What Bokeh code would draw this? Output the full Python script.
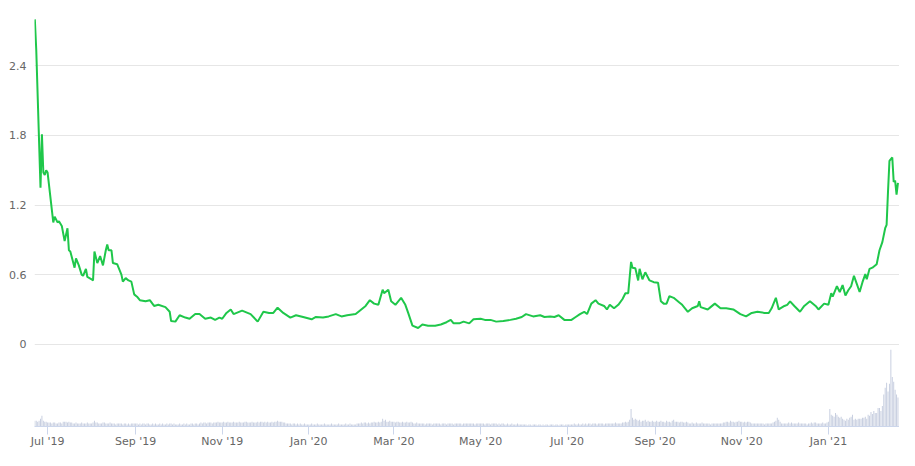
import pandas as pd
from bokeh.plotting import figure
from bokeh.models import Range1d, FixedTicker, DatetimeTickFormatter
from bokeh.embed import file_html
from bokeh.resources import INLINE

# ---- price series ----
price_dates = [
    "2019-06-22", "2019-06-23", "2019-06-26", "2019-06-27", "2019-06-28", "2019-06-29", "2019-06-30",
    "2019-07-01", "2019-07-05", "2019-07-06", "2019-07-08", "2019-07-09", "2019-07-11", "2019-07-13", "2019-07-15", "2019-07-16", "2019-07-17", "2019-07-20", "2019-07-21", "2019-07-23", "2019-07-25", "2019-07-26", "2019-07-28", "2019-07-29",
    "2019-08-01", "2019-08-02", "2019-08-03", "2019-08-05", "2019-08-07", "2019-08-09", "2019-08-11", "2019-08-12", "2019-08-13", "2019-08-15", "2019-08-16", "2019-08-19", "2019-08-20", "2019-08-22", "2019-08-23", "2019-08-25", "2019-08-27", "2019-08-29", "2019-08-31",
    "2019-09-02", "2019-09-04", "2019-09-08", "2019-09-11", "2019-09-14", "2019-09-17", "2019-09-22", "2019-09-25", "2019-09-26", "2019-09-29",
    "2019-10-02", "2019-10-06", "2019-10-09", "2019-10-13", "2019-10-16", "2019-10-20", "2019-10-24", "2019-10-27", "2019-10-30",
    "2019-11-01", "2019-11-04", "2019-11-07", "2019-11-09", "2019-11-15", "2019-11-21", "2019-11-26", "2019-11-30",
    "2019-12-04", "2019-12-07", "2019-12-10", "2019-12-14", "2019-12-19", "2019-12-23", "2019-12-28",
    "2020-01-03", "2020-01-06", "2020-01-11", "2020-01-15", "2020-01-20", "2020-01-24", "2020-01-28",
    "2020-02-03", "2020-02-05", "2020-02-10", "2020-02-13", "2020-02-16", "2020-02-19", "2020-02-22", "2020-02-23", "2020-02-26", "2020-02-28",
    "2020-03-02", "2020-03-06", "2020-03-09", "2020-03-11", "2020-03-14", "2020-03-18", "2020-03-21", "2020-03-25", "2020-03-30",
    "2020-04-03", "2020-04-07", "2020-04-10", "2020-04-12", "2020-04-16", "2020-04-19", "2020-04-23", "2020-04-26",
    "2020-05-01", "2020-05-04", "2020-05-08", "2020-05-12", "2020-05-17", "2020-05-22", "2020-05-26", "2020-05-30",
    "2020-06-02", "2020-06-07", "2020-06-12", "2020-06-15", "2020-06-19", "2020-06-22", "2020-06-25", "2020-06-29",
    "2020-07-04", "2020-07-07", "2020-07-10", "2020-07-13", "2020-07-15", "2020-07-18", "2020-07-21", "2020-07-23", "2020-07-27", "2020-07-29", "2020-07-31",
    "2020-08-03", "2020-08-06", "2020-08-09", "2020-08-11", "2020-08-13", "2020-08-15", "2020-08-16", "2020-08-18", "2020-08-20", "2020-08-21", "2020-08-23", "2020-08-25", "2020-08-28", "2020-08-31",
    "2020-09-03", "2020-09-05", "2020-09-07", "2020-09-09", "2020-09-11", "2020-09-14", "2020-09-18", "2020-09-20", "2020-09-24", "2020-09-27",
    "2020-10-01", "2020-10-02", "2020-10-03", "2020-10-08", "2020-10-10", "2020-10-13", "2020-10-17", "2020-10-21", "2020-10-26", "2020-10-31",
    "2020-11-04", "2020-11-08", "2020-11-12", "2020-11-17", "2020-11-20", "2020-11-22", "2020-11-25", "2020-11-27",
    "2020-12-01", "2020-12-03", "2020-12-05", "2020-12-08", "2020-12-12", "2020-12-15", "2020-12-19", "2020-12-23", "2020-12-25", "2020-12-29",
    "2021-01-01", "2021-01-03", "2021-01-04", "2021-01-07", "2021-01-09", "2021-01-11", "2021-01-13", "2021-01-15", "2021-01-17", "2021-01-19", "2021-01-21", "2021-01-23", "2021-01-25", "2021-01-27", "2021-01-28", "2021-01-30",
    "2021-02-01", "2021-02-04", "2021-02-06", "2021-02-08", "2021-02-10", "2021-02-11", "2021-02-12", "2021-02-13", "2021-02-15", "2021-02-16", "2021-02-17", "2021-02-18", "2021-02-19",
]
price_values = [
    2.80, 2.54, 1.35, 1.81, 1.48, 1.46, 1.50,
    1.48, 1.05, 1.10, 1.05, 1.06, 1.02, 0.89, 1.00, 0.81, 0.80, 0.66, 0.74, 0.68, 0.60, 0.59, 0.65, 0.58,
    0.56, 0.55, 0.80, 0.70, 0.76, 0.68, 0.81, 0.86, 0.81, 0.81, 0.70, 0.69, 0.66, 0.60, 0.54, 0.57, 0.55, 0.54, 0.43,
    0.41, 0.38, 0.37, 0.38, 0.33, 0.34, 0.32, 0.28, 0.20, 0.195,
    0.25, 0.23, 0.22, 0.26, 0.26, 0.22, 0.23, 0.21, 0.23,
    0.22, 0.27, 0.30, 0.26, 0.29, 0.26, 0.195, 0.28,
    0.27, 0.27, 0.315, 0.27, 0.23, 0.25, 0.235,
    0.215, 0.235, 0.23, 0.24, 0.26, 0.24, 0.25,
    0.26, 0.28, 0.33, 0.38, 0.35, 0.34, 0.47, 0.44, 0.47, 0.37,
    0.34, 0.40, 0.34, 0.27, 0.16, 0.14, 0.17, 0.16, 0.16,
    0.17, 0.19, 0.21, 0.18, 0.18, 0.195, 0.18, 0.215,
    0.22, 0.21, 0.21, 0.195, 0.20, 0.21, 0.22, 0.235,
    0.26, 0.24, 0.25, 0.235, 0.24, 0.235, 0.25, 0.21,
    0.21, 0.235, 0.26, 0.28, 0.26, 0.35, 0.38, 0.35, 0.33, 0.30, 0.34,
    0.31, 0.34, 0.39, 0.44, 0.44, 0.71, 0.66, 0.655, 0.55, 0.65, 0.56, 0.62, 0.55, 0.535,
    0.53, 0.37, 0.35, 0.35, 0.415, 0.40, 0.36, 0.34, 0.28, 0.31,
    0.33, 0.37, 0.32, 0.30, 0.32, 0.35, 0.31, 0.31, 0.30, 0.26,
    0.24, 0.27, 0.28, 0.27, 0.27, 0.31, 0.40, 0.30,
    0.33, 0.34, 0.37, 0.33, 0.28, 0.33, 0.37, 0.33, 0.30, 0.35,
    0.34, 0.44, 0.41, 0.50, 0.45, 0.51, 0.42, 0.465, 0.50, 0.59, 0.52, 0.45, 0.535, 0.605, 0.56, 0.65,
    0.66, 0.69, 0.81, 0.88, 1.00, 1.03, 1.32, 1.58, 1.61, 1.40, 1.41, 1.29, 1.39,
]

# ---- daily volume (relative units), first day 2019-06-22 ----
volume_start = "2019-06-22"
volume = [
    6, 6, 5, 6, 8, 11, 6, 5, 5,
    4, 4, 4, 3, 4, 4, 3, 3, 4, 4, 3, 5, 5, 5, 4, 5, 4, 4, 3, 3, 4, 3, 3, 3, 4, 3, 3, 3, 4, 3, 3,
    3, 4, 6, 4, 4, 3, 3, 3, 4, 4, 3, 3, 3, 4, 3, 3, 3, 2, 3, 3, 3, 3, 2, 3, 3, 2, 3, 2, 3, 3, 3,
    3, 3, 2, 3, 2, 3, 3, 2, 3, 3, 2, 2, 3, 2, 3, 2, 2, 3, 2, 3, 2, 2, 3, 2, 3, 3, 2, 3, 2, 2,
    2, 3, 2, 2, 3, 2, 3, 2, 2, 3, 3, 2, 3, 3, 2, 3, 4, 3, 4, 4, 3, 4, 4, 4, 3, 4, 4, 4, 5, 4, 4,
    4, 5, 4, 4, 5, 4, 4, 4, 5, 4, 4, 4, 5, 4, 4, 4, 5, 5, 4, 4, 4, 5, 4, 4, 4, 5, 4, 5, 5, 4,
    5, 4, 5, 4, 4, 5, 4, 5, 5, 6, 5, 5, 5, 4, 4, 3, 3, 3, 3, 2, 3, 3, 2, 3, 2, 3, 2, 2, 3, 2, 2,
    2, 2, 3, 2, 2, 2, 3, 2, 2, 2, 2, 3, 2, 2, 2, 2, 3, 2, 2, 2, 2, 3, 2, 2, 2, 2, 3, 2, 2, 3, 2,
    2, 2, 2, 3, 3, 3, 4, 3, 4, 4, 3, 4, 3, 4, 4, 5, 4, 4, 5, 4, 5, 8, 6, 7, 5, 5, 6, 5, 5,
    5, 4, 5, 5, 4, 4, 5, 4, 4, 5, 4, 4, 5, 4, 3, 3, 4, 3, 3, 3, 3, 3, 2, 3, 3, 3, 3, 2, 3, 3, 3,
    3, 3, 2, 3, 3, 3, 2, 3, 3, 3, 3, 2, 3, 3, 3, 3, 3, 2, 3, 3, 3, 3, 3, 3, 3, 3, 2, 3, 3, 3,
    3, 3, 3, 2, 3, 3, 3, 2, 3, 3, 3, 3, 2, 3, 2, 3, 3, 2, 2, 3, 2, 2, 3, 2, 2, 2, 3, 2, 2, 2, 2,
    2, 2, 1, 2, 2, 1, 2, 2, 2, 1, 2, 2, 1, 2, 1, 2, 2, 1, 2, 2, 2, 1, 2, 2, 1, 2, 2, 2, 1, 2,
    2, 2, 2, 2, 2, 3, 2, 2, 3, 2, 2, 3, 2, 3, 2, 3, 3, 2, 3, 3, 3, 2, 3, 3, 3, 3, 2, 3, 3, 3, 3,
    3, 3, 3, 4, 3, 3, 3, 3, 4, 4, 5, 4, 5, 7, 18, 9, 7, 8, 7, 6, 7, 5, 6, 6, 7, 5, 6, 5, 5, 6, 5,
    5, 6, 5, 5, 6, 5, 5, 4, 6, 5, 5, 4, 6, 7, 5, 5, 5, 4, 5, 5, 4, 4, 5, 4, 3, 3, 4, 3, 3, 4,
    3, 3, 3, 4, 3, 3, 3, 3, 3, 2, 3, 3, 3, 3, 3, 3, 3, 3, 4, 4, 5, 5, 4, 6, 5, 5, 4, 5, 5, 6, 5,
    5, 4, 5, 4, 5, 5, 4, 3, 3, 3, 3, 3, 3, 3, 3, 3, 2, 3, 3, 3, 3, 3, 4, 5, 6, 9, 7, 5, 3, 3,
    3, 3, 3, 4, 3, 4, 3, 3, 3, 3, 4, 3, 3, 3, 3, 3, 2, 3, 3, 4, 3, 4, 4, 3, 3, 3, 3, 4, 3, 3, 4,
    5, 18, 12, 11, 10, 14, 12, 10, 9, 10, 8, 7, 6, 8, 7, 9, 10, 12, 7, 8, 7, 8, 8, 8, 9, 9, 10, 8, 12, 11, 15,
    13, 16, 14, 14, 19, 19, 16, 21, 33, 40, 45, 36, 44, 79, 51, 46, 38, 33, 30,
]

# ---- axis ticks ----
x_tick_dates = ["2019-07-01", "2019-09-01", "2019-11-01", "2020-01-01", "2020-03-01",
                "2020-05-01", "2020-07-01", "2020-09-01", "2020-11-01", "2021-01-01"]
x_tick_labels = ["Jul '19", "Sep '19", "Nov '19", "Jan '20", "Mar '20",
                 "May '20", "Jul '20", "Sep '20", "Nov '20", "Jan '21"]
y_ticks = [0, 0.6, 1.2, 1.8, 2.4]
y_tick_labels = ["0", "0.6", "1.2", "1.8", "2.4"]

px = pd.to_datetime(price_dates)
vx = pd.date_range(volume_start, periods=len(volume), freq="D")

p = figure(width=899, height=450, x_axis_type="datetime",
           output_backend="svg", toolbar_location=None,
           x_range=Range1d(pd.Timestamp("2019-06-21 18:30"), pd.Timestamp("2021-02-20 02:00")),
           y_range=Range1d(-0.709, 2.963),
           min_border_left=34, min_border_right=0, min_border_top=0, min_border_bottom=20)
p.extra_y_ranges = {"vol": Range1d(0, 439)}
p.outline_line_color = None
p.background_fill_color = "white"
p.border_fill_color = "white"

p.vbar(x=vx, top=volume, bottom=0, width=0.7 * 86400000, y_range_name="vol",
       fill_color="#c8cfe0", line_color=None)
p.line(px, price_values, line_color="#1fc74a", line_width=2)

tick_ms = [pd.Timestamp(d).value // 10**6 for d in x_tick_dates]
p.xaxis.ticker = FixedTicker(ticks=tick_ms)
p.xaxis.formatter = DatetimeTickFormatter(months="%b '%y", days="%b '%y")
p.xaxis.major_label_overrides = {t: l for t, l in zip(tick_ms, x_tick_labels)}
p.xaxis.axis_line_color = "#ccd6eb"
p.xaxis.major_tick_line_color = "#ccd6eb"
p.xaxis.major_tick_out = 8
p.xaxis.major_tick_in = 0
p.xaxis.minor_tick_line_color = None
p.xaxis.major_label_standoff = 0
p.xaxis.major_label_text_color = "#666666"
p.xaxis.major_label_text_font = "DejaVu Sans"
p.xaxis.major_label_text_font_size = "11px"

p.yaxis.ticker = FixedTicker(ticks=y_ticks)
p.yaxis.major_label_overrides = {t: l for t, l in zip(y_ticks, y_tick_labels)}
p.yaxis.axis_line_color = None
p.yaxis.major_tick_line_color = None
p.yaxis.minor_tick_line_color = None
p.yaxis.major_tick_out = 0
p.yaxis.major_tick_in = 0
p.yaxis.major_label_standoff = 8
p.yaxis.major_label_text_color = "#666666"
p.yaxis.major_label_text_font = "DejaVu Sans"
p.yaxis.major_label_text_font_size = "11px"

p.xgrid.visible = False
p.ygrid.grid_line_color = "#e6e6e6"
p.ygrid.grid_line_width = 1

open("out.html", "w").write(file_html(p, INLINE))
